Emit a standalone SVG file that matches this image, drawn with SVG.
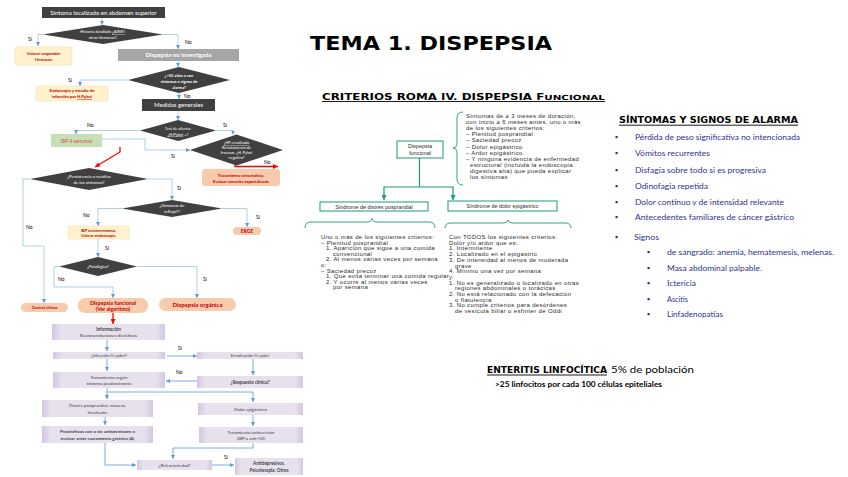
<svg xmlns="http://www.w3.org/2000/svg" width="848" height="477" viewBox="0 0 848 477">
<defs>
<marker id="ab" viewBox="0 0 6 6" refX="6" refY="3" markerWidth="4" markerHeight="4" orient="auto" markerUnits="userSpaceOnUse"><path d="M0,0 L6,3 L0,6 z" fill="#5b9bd5"/></marker>
<marker id="ar" viewBox="0 0 6 6" refX="6" refY="3" markerWidth="5" markerHeight="5" orient="auto" markerUnits="userSpaceOnUse"><path d="M0,0 L6,3 L0,6 z" fill="#ff0000"/></marker>
<marker id="at" viewBox="0 0 6 6" refX="6" refY="3" markerWidth="5" markerHeight="5" orient="auto" markerUnits="userSpaceOnUse"><path d="M0,0 L6,3 L0,6 z" fill="#1a9a78"/></marker>
<linearGradient id="lav" x1="0" x2="1" y1="0" y2="0"><stop offset="0" stop-color="#d3c7e0"/><stop offset="0.08" stop-color="#e7e1ee"/><stop offset="0.92" stop-color="#e7e1ee"/><stop offset="1" stop-color="#d3c7e0"/></linearGradient>
</defs>
<style>
.dk{fill:#404040}
.gy{fill:#a6a6a6}
.yl{fill:#fff2cc;stroke:#f5e3a8;stroke-width:0.6}
.or{fill:#f8cbad}
.gr{fill:#c5e0b4}
.lv{fill:url(#lav)}
.wt{fill:#ffffff;font-family:Lato,"Liberation Sans",sans-serif;text-anchor:middle}
.rt{fill:#c00000;font-family:Lato,"Liberation Sans",sans-serif;text-anchor:middle;font-weight:bold}
.lt{fill:#404040;font-family:Lato,"Liberation Sans",sans-serif;text-anchor:middle}
.lb{fill:#000;font-family:Lato,"Liberation Sans",sans-serif;font-size:5px}
.cn{fill:none;stroke:#9dc3e6;stroke-width:0.8}
.cb{fill:none;stroke:#5b9bd5;stroke-width:0.8}
.cr{fill:none;stroke:#ff0000;stroke-width:1.3}
.tb{fill:#ffffff;stroke:#1a9a78;stroke-width:1}
.tc{fill:none;stroke:#1a9a78;stroke-width:1.2}
.mt{fill:#2a2a2a;font-family:"Liberation Sans",Arial,sans-serif;font-size:6px;letter-spacing:0.35px}
.li{fill:#2e3192;font-family:Lato,"Open Sans",sans-serif;font-size:8px}
.bu{fill:#2e3192}
</style>

<!-- Left flowchart nodes -->
<g id="n1"><rect x="42" y="7" width="123" height="11" class="dk"/><text x="103.5" y="14.5" class="wt" font-size="6">Síntoma localizado en abdomen superior</text></g>
<g id="d1"><polygon points="43,34.5 103,25 163,34.5 103,44" class="dk"/><text x="103" y="33" class="wt" font-size="4">Historia detallada <tspan text-decoration="underline">¿AINE?</tspan>,</text><text x="103" y="39" class="wt" font-size="4">otros fármacos?.</text></g>
<g id="n2"><rect x="15" y="47" width="57" height="18" rx="2" class="yl"/><text x="43.5" y="55" class="rt" font-size="4.2">Valorar suspender</text><text x="43.5" y="61" class="rt" font-size="4.2">fármacos</text></g>
<g id="n3"><rect x="118" y="49" width="121" height="12" class="gy"/><text x="178.5" y="57" class="wt" font-size="6" font-weight="bold">Dispepsia no investigada</text></g>
<g id="d2"><polygon points="128,80 179,67 230,80 179,93" class="dk"/><text x="179" y="76.5" class="wt" font-size="4" font-weight="bold">¿&gt;55 años o con</text><text x="179" y="82.5" class="wt" font-size="4" font-weight="bold">síntomas o signos de</text><text x="179" y="88.5" class="wt" font-size="4" font-weight="bold">alarma?</text></g>
<g id="n4"><rect x="36" y="86" width="72" height="15" rx="2" class="yl"/><text x="72" y="92" class="rt" font-size="4.2">Endoscopia y estudio de</text><text x="72" y="98" class="rt" font-size="4.2">infección por <tspan text-decoration="underline">H.Pylori</tspan></text></g>
<g id="n5"><rect x="142" y="99" width="73" height="12" class="dk"/><text x="178.5" y="107" class="wt" font-size="6">Medidas generales</text></g>
<g id="d3"><polygon points="140,130.5 178,120 216,130.5 178,141" class="dk"/><text x="178" y="129.5" class="wt" font-size="4">Test de aliento.</text><text x="178" y="135.5" class="wt" font-size="4"><tspan text-decoration="underline">¿H.Pylori</tspan> +?</text></g>
<g id="n6"><rect x="51" y="134" width="51" height="13" class="gr"/><text x="76.5" y="142.5" class="lt" font-size="5" style="fill:#d9534f">IBP 4 semanas</text></g>
<g id="d4"><polygon points="190,150 236.5,134.5 283,150 236.5,165.5" class="dk"/><text x="236.5" y="144" class="wt" font-size="3.8"><tspan text-decoration="underline">¿HP erradicado</tspan></text><text x="236.5" y="149" class="wt" font-size="3.8">Retratamiento de</text><text x="236.5" y="154" class="wt" font-size="3.8">fracasos. ¿H. Pylori</text><text x="236.5" y="159" class="wt" font-size="3.8">negativo?</text></g>
<g id="n7"><rect x="202" y="169" width="78" height="17" rx="3" class="or"/><text x="241" y="176.5" class="rt" font-size="4.2">Tratamiento sintomático.</text><text x="241" y="182.5" class="rt" font-size="4.2">Evaluar consulta especializada</text></g>
<g id="d5"><polygon points="30,179 89,168 148,179 89,190" class="dk"/><text x="89" y="178" class="wt" font-size="4.3">¿Persistencia o recidiva</text><text x="89" y="184" class="wt" font-size="4.3">de los síntomas?</text></g>
<g id="d6"><polygon points="122,208.5 172,200 222,208.5 172,217" class="dk"/><text x="172" y="207" class="wt" font-size="4.3">¿Síntomas de</text><text x="172" y="213" class="wt" font-size="4.3">reflujo??</text></g>
<g id="n8"><rect x="68" y="226" width="61" height="13" rx="1.5" class="yl"/><text x="98.5" y="231.5" class="rt" font-size="4">IBP mantenimiento.</text><text x="98.5" y="237" class="rt" font-size="4">Valorar endoscopia.</text></g>
<g id="n9"><rect x="233" y="227" width="28" height="8" rx="4" class="or"/><text x="247" y="233" class="rt" font-size="5" font-weight="normal">ERGE</text></g>
<g id="d7"><polygon points="59,266.5 98,257 137,266.5 98,276" class="dk"/><text x="98" y="268" class="wt" font-size="4">¿Patológica?</text></g>
<g id="n10"><rect x="21" y="303" width="47" height="9" rx="4.5" class="or"/><text x="44.5" y="309" class="rt" font-size="4">Control clínico</text></g>
<g id="n11"><rect x="78" y="298" width="70" height="15" rx="7" class="or"/><text x="113" y="304.5" class="rt" font-size="5.3">Dispepsia funcional</text><text x="113" y="311" class="rt" font-size="5.3">(Ver algoritmo)</text></g>
<g id="n12"><rect x="159" y="298" width="77" height="13" rx="6.5" class="or"/><text x="197.5" y="307" class="rt" font-size="6">Dispepsia orgánica</text></g>

<g id="n13"><rect x="52" y="324" width="113" height="16" class="lv"/><text x="108.5" y="331" class="lt" font-size="4.6" font-weight="bold">Información</text><text x="108.5" y="337" class="lt" font-size="4.6">Recomendaciones dietéticas</text></g>
<g id="n14"><rect x="53" y="352" width="112" height="7" class="lv"/><text x="109" y="357.3" class="lt" font-size="4.2">¿Infección <tspan font-style="italic">H. pylori</tspan>?</text></g>
<g id="n15"><rect x="197" y="352" width="106" height="7" class="lv"/><text x="250" y="357.3" class="lt" font-size="4.2">Erradicación <tspan font-style="italic">H. pylori</tspan></text></g>
<g id="n16"><rect x="197" y="376" width="106" height="12" class="lv"/><text x="250" y="383.5" class="lt" font-size="4.6" font-weight="bold">¿Respuesta clínica?</text></g>
<g id="n17"><rect x="53" y="372" width="112" height="16" class="lv"/><text x="109" y="379" class="lt" font-size="4.6">Tratamiento según</text><text x="109" y="385" class="lt" font-size="4.6">síntoma predominante</text></g>
<g id="n18"><rect x="42" y="400" width="111" height="17" class="lv"/><text x="97.5" y="407" class="lt" font-size="4.4">Distrés postprandial, náuseas,</text><text x="97.5" y="413.5" class="lt" font-size="4.4">hinchazón</text></g>
<g id="n19"><rect x="42" y="426" width="111" height="17" class="lv"/><text x="97.5" y="433" class="lt" font-size="4.4" font-weight="bold">Procinéticos con o sin antisecretores o</text><text x="97.5" y="439.5" class="lt" font-size="4.4" font-weight="bold">evaluar antes vaciamiento gástrico (A)</text></g>
<g id="n20"><rect x="198" y="403" width="105" height="12" class="lv"/><text x="250.5" y="410.5" class="lt" font-size="4.4">Dolor epigástrico</text></g>
<g id="n21"><rect x="199" y="427" width="104" height="16" class="lv"/><text x="251" y="434" class="lt" font-size="4.4">Tratamiento antisecretor</text><text x="251" y="440" class="lt" font-size="4.4">(IBP o anti-H2)</text></g>
<g id="n22"><rect x="137" y="460" width="75" height="10" class="lv"/><text x="174.5" y="466.5" class="lt" font-size="4.4">¿Refractariedad?</text></g>
<g id="n23"><rect x="235" y="458" width="68" height="17" class="lv"/><text x="269" y="465" class="lt" font-size="4.6" font-weight="bold">Antidepresivos.</text><text x="269" y="471.5" class="lt" font-size="4.6" font-weight="bold">Psicoterapia. Otros</text></g>

<!-- Left flowchart connectors -->
<g id="connectors">
<path d="M102,18 V25" class="cn" marker-end="url(#ab)"/>
<path d="M43,34.5 H38 V46" class="cn" marker-end="url(#ab)"/>
<path d="M163,34.5 H178 V49" class="cn" marker-end="url(#ab)"/>
<path d="M178,61 V67" class="cn" marker-end="url(#ab)"/>
<path d="M128,80 H80 V86" class="cn" marker-end="url(#ab)"/>
<path d="M179,93 V99" class="cn" marker-end="url(#ab)"/>
<path d="M178,111 V120" class="cn" marker-end="url(#ab)"/>
<path d="M140,130.5 H76 V134" class="cn" marker-end="url(#ab)"/>
<path d="M216,130.5 H233 V134.5" class="cn" marker-end="url(#ab)"/>
<path d="M102,139 H145 V150 H190" class="cn" marker-end="url(#ab)"/>
<path d="M120,147 V152 L95,167" class="cr" marker-end="url(#ar)"/>
<path d="M235,165 V166.5 H278" class="cr" marker-end="url(#ar)"/>
<path d="M148,179 H172 V200" class="cn" marker-end="url(#ab)"/>
<path d="M30,179 H23 V246 H44 V303" class="cn" marker-end="url(#ab)"/>
<path d="M122,208.5 H98 V226" class="cn" marker-end="url(#ab)"/>
<path d="M222,208.5 H247 V227" class="cn" marker-end="url(#ab)"/>
<path d="M98,239 V257" class="cn" marker-end="url(#ab)"/>
<path d="M59,266.5 H54 V287 H113 V298" class="cn" marker-end="url(#ab)"/>
<path d="M137,266.5 H197 V298" class="cn" marker-end="url(#ab)"/>
<path d="M113,313 V324" class="cr" marker-end="url(#ar)"/>
<path d="M107,340 V351" class="cb" marker-end="url(#ab)"/>
<path d="M167,356 H197" class="cb" marker-end="url(#ab)"/>
<path d="M253,359 V375" class="cb" marker-end="url(#ab)"/>
<path d="M197,381 H166" class="cb" marker-end="url(#ab)"/>
<path d="M107,359 V371" class="cb" marker-end="url(#ab)"/>
<path d="M107,388 V399" class="cb" marker-end="url(#ab)"/>
<path d="M107,392 H253 V402" class="cb" marker-end="url(#ab)"/>
<path d="M105,417 V425" class="cb" marker-end="url(#ab)"/>
<path d="M253,415 V426" class="cb" marker-end="url(#ab)"/>
<path d="M253,443 V448 H173 V459" class="cb" marker-end="url(#ab)"/>
<path d="M105,443 V465 H136" class="cb" marker-end="url(#ab)"/>
<path d="M212,465 H234" class="cb" marker-end="url(#ab)"/>
<text x="28" y="41" class="lb">Sí</text>
<text x="185" y="44" class="lb">No</text>
<text x="68" y="82" class="lb">Sí</text>
<text x="184" y="98" class="lb">No</text>
<text x="87" y="127" class="lb">No</text>
<text x="223" y="127" class="lb">Sí</text>
<text x="171" y="158" class="lb">Sí</text>
<text x="264" y="164" class="lb">No</text>
<text x="177" y="190" class="lb">Sí</text>
<text x="26" y="229" class="lb">No</text>
<text x="83" y="217" class="lb">No</text>
<text x="256" y="219" class="lb">Sí</text>
<text x="105" y="250" class="lb">Sí</text>
<text x="58" y="281" class="lb">No</text>
<text x="203" y="281" class="lb">Sí</text>
<text x="178" y="350" class="lb" font-size="4.2" fill="#555">Sí</text>
<text x="176" y="374" class="lb" font-size="4.2" fill="#555">No</text>
<text x="224" y="459" class="lb" font-size="4.2" fill="#555">Sí</text>
</g>

<!-- Titles -->
<text x="310" y="50" font-family="'DejaVu Sans',sans-serif" font-weight="bold" font-size="19" textLength="242" lengthAdjust="spacingAndGlyphs" fill="#000">TEMA 1. DISPEPSIA</text>
<text x="322" y="99.5" font-family="'DejaVu Sans',sans-serif" font-weight="bold" font-size="8" textLength="283" lengthAdjust="spacingAndGlyphs" fill="#000">CRITERIOS ROMA IV. DISPEPSIA F<tspan font-size="7">UNCIONAL</tspan></text>
<line x1="322" y1="101.5" x2="605" y2="101.5" stroke="#000" stroke-width="0.9"/>

<!-- Roma IV diagram -->
<g id="m1"><rect x="397" y="141" width="46" height="17" class="tb"/><text x="420" y="148" class="mt" text-anchor="middle" style="font-size:5.5px;letter-spacing:0">Dispepsia</text><text x="420" y="154.5" class="mt" text-anchor="middle" style="font-size:5.5px;letter-spacing:0">funcional</text></g>
<g id="m2"><rect x="320" y="202" width="108" height="9" class="tb"/><text x="374" y="208.6" class="mt" text-anchor="middle" style="font-size:5.4px;letter-spacing:0">Síndrome de distrés posprandial</text></g>
<g id="m3"><rect x="448" y="201" width="109" height="10" class="tb"/><text x="502.5" y="208.2" class="mt" text-anchor="middle" style="font-size:5.4px;letter-spacing:0">Síndrome de dolor epigástrico</text></g>
<g id="m-connectors">
<path d="M419.5,158 V187" class="tc"/>
<path d="M419.5,187 H384 V200" class="tc" marker-end="url(#at)"/>
<path d="M419.5,187 H453 V200" class="tc" marker-end="url(#at)"/>
<path d="M463,112 Q457,112 457,118 V143 Q457,148 453,148 Q457,148 457,153 V179 Q457,185 463,185" fill="none" stroke="#1a9a78" stroke-width="0.9"/>
<path d="M305,228 Q305,222 311,222 H366 Q372,222 372,218.5 Q372,222 378,222 H429 Q435,222 435,228" fill="none" stroke="#1a9a78" stroke-width="0.9"/>
<path d="M445,228 Q445,223 451,223 H502 Q508,223 508,220 Q508,223 514,223 H565 Q571,223 571,228" fill="none" stroke="#1a9a78" stroke-width="0.9"/>
</g>
<g id="m4">
<text class="mt" x="466" y="118">Síntomas de ≥ 3 meses de duración,</text>
<text class="mt" x="466" y="124.1">con inicio ≥ 6 meses antes, uno o más</text>
<text class="mt" x="466" y="130.2">de los siguientes criterios:</text>
<text class="mt" x="466" y="136.3">– Plenitud posprandial</text>
<text class="mt" x="466" y="142.4">– Saciedad precoz</text>
<text class="mt" x="466" y="148.5">– Dolor epigástrico</text>
<text class="mt" x="466" y="154.6">– Ardor epigástrico</text>
<text class="mt" x="466" y="160.7">– Y ninguna evidencia de enfermedad</text>
<text class="mt" x="470" y="166.8">estructural (incluida la endoscopia</text>
<text class="mt" x="470" y="172.9">digestiva alta) que pueda explicar</text>
<text class="mt" x="470" y="179">los síntomas</text>
</g>
<g id="m5">
<text class="mt" x="321" y="239">Uno o más de los siguientes criterios:</text>
<text class="mt" x="321" y="244.6">– Plenitud posprandial</text>
<text class="mt" x="326" y="250.2">1. Aparición que sigue a una comida</text>
<text class="mt" x="333" y="255.8">convencional</text>
<text class="mt" x="326" y="261.4">2. Al menos varias veces por semana</text>
<text class="mt" x="321" y="267">o:</text>
<text class="mt" x="321" y="272.6">– Saciedad precoz</text>
<text class="mt" x="326" y="278.2">1. Que evita terminar una comida regular</text>
<text class="mt" x="326" y="283.8">2. Y ocurre al menos varias veces</text>
<text class="mt" x="333" y="289.4">por semana</text>
</g>
<g id="m6">
<text class="mt" x="449" y="239">Con TODOS los siguientes criterios:</text>
<text class="mt" x="449" y="244.7">Dolor y/o ardor que es:</text>
<text class="mt" x="449" y="250.4">1. Intermitente</text>
<text class="mt" x="449" y="256.1">2. Localizado en el epigastrio</text>
<text class="mt" x="449" y="261.8">3. De intensidad al menos de moderada</text>
<text class="mt" x="455" y="267.5">grave</text>
<text class="mt" x="449" y="273.2">4. Mínimo una vez por semana</text>
<text class="mt" x="449" y="278.9">y:</text>
<text class="mt" x="449" y="284.6">1. No es generalizado o localizado en otras</text>
<text class="mt" x="455" y="290.3">regiones abdominales o torácicas</text>
<text class="mt" x="449" y="296">2. No está relacionado con la defecación</text>
<text class="mt" x="455" y="301.7">o flatulencia</text>
<text class="mt" x="449" y="307.4">3. No cumple criterios para desórdenes</text>
<text class="mt" x="455" y="313.1">de vesícula biliar o esfínter de Oddi</text>
</g>

<!-- Alarm signs -->
<text x="619" y="123" font-family="'DejaVu Sans',sans-serif" font-weight="bold" font-size="8" textLength="179" lengthAdjust="spacingAndGlyphs" fill="#000">SÍNTOMAS Y SIGNOS DE ALARMA</text>
<line x1="619" y1="125.2" x2="798" y2="125.2" stroke="#000" stroke-width="0.9"/>
<g id="alarm">
<rect x="615.5" y="136" width="2.2" height="2.2" class="bu"/><text class="li" x="635" y="140" textLength="165" lengthAdjust="spacingAndGlyphs">Pérdida de peso significativa no intencionada</text>
<rect x="615.5" y="152" width="2.2" height="2.2" class="bu"/><text class="li" x="635" y="156" textLength="75" lengthAdjust="spacingAndGlyphs">Vómitos recurrentes</text>
<rect x="615.5" y="169" width="2.2" height="2.2" class="bu"/><text class="li" x="635" y="173" textLength="131" lengthAdjust="spacingAndGlyphs">Disfagia sobre todo si es progresiva</text>
<rect x="615.5" y="185" width="2.2" height="2.2" class="bu"/><text class="li" x="635" y="189" textLength="73" lengthAdjust="spacingAndGlyphs">Odinofagia repetida</text>
<rect x="615.5" y="201" width="2.2" height="2.2" class="bu"/><text class="li" x="635" y="205" textLength="149" lengthAdjust="spacingAndGlyphs">Dolor continuo y de intensidad relevante</text>
<rect x="615.5" y="216" width="2.2" height="2.2" class="bu"/><text class="li" x="635" y="220" textLength="159" lengthAdjust="spacingAndGlyphs">Antecedentes familiares de cáncer gástrico</text>
<rect x="615.5" y="236" width="2.2" height="2.2" class="bu"/><text class="li" x="634" y="240" textLength="25" lengthAdjust="spacingAndGlyphs">Signos</text>
<rect x="647.5" y="251" width="2.2" height="2.2" class="bu"/><text class="li" x="667" y="255" textLength="167" lengthAdjust="spacingAndGlyphs">de sangrado: anemia, hematemesis, melenas.</text>
<rect x="647.5" y="267" width="2.2" height="2.2" class="bu"/><text class="li" x="667" y="271" textLength="95" lengthAdjust="spacingAndGlyphs">Masa abdominal palpable.</text>
<rect x="647.5" y="282" width="2.2" height="2.2" class="bu"/><text class="li" x="667" y="286" textLength="29" lengthAdjust="spacingAndGlyphs">Ictericia</text>
<rect x="647.5" y="298" width="2.2" height="2.2" class="bu"/><text class="li" x="667" y="302" textLength="21" lengthAdjust="spacingAndGlyphs">Ascitis</text>
<rect x="647.5" y="313" width="2.2" height="2.2" class="bu"/><text class="li" x="667" y="317" textLength="56" lengthAdjust="spacingAndGlyphs">Linfadenopatías</text>
</g>

<!-- Enteritis -->
<text x="487" y="373" font-family="'DejaVu Sans',sans-serif" font-weight="bold" font-size="8" textLength="120" lengthAdjust="spacingAndGlyphs" fill="#000">ENTERITIS LINFOCÍTICA</text>
<line x1="487" y1="375" x2="607" y2="375" stroke="#000" stroke-width="0.9"/>
<text x="611" y="373" font-family="Lato,'Open Sans',sans-serif" font-size="9.5" textLength="83" lengthAdjust="spacingAndGlyphs" fill="#000">5% de población</text>
<text x="495" y="387" font-family="Lato,'Open Sans',sans-serif" font-weight="bold" font-size="7" textLength="167" lengthAdjust="spacingAndGlyphs" fill="#000">&gt;25 linfocitos por cada 100 células epiteliales</text>
</svg>
